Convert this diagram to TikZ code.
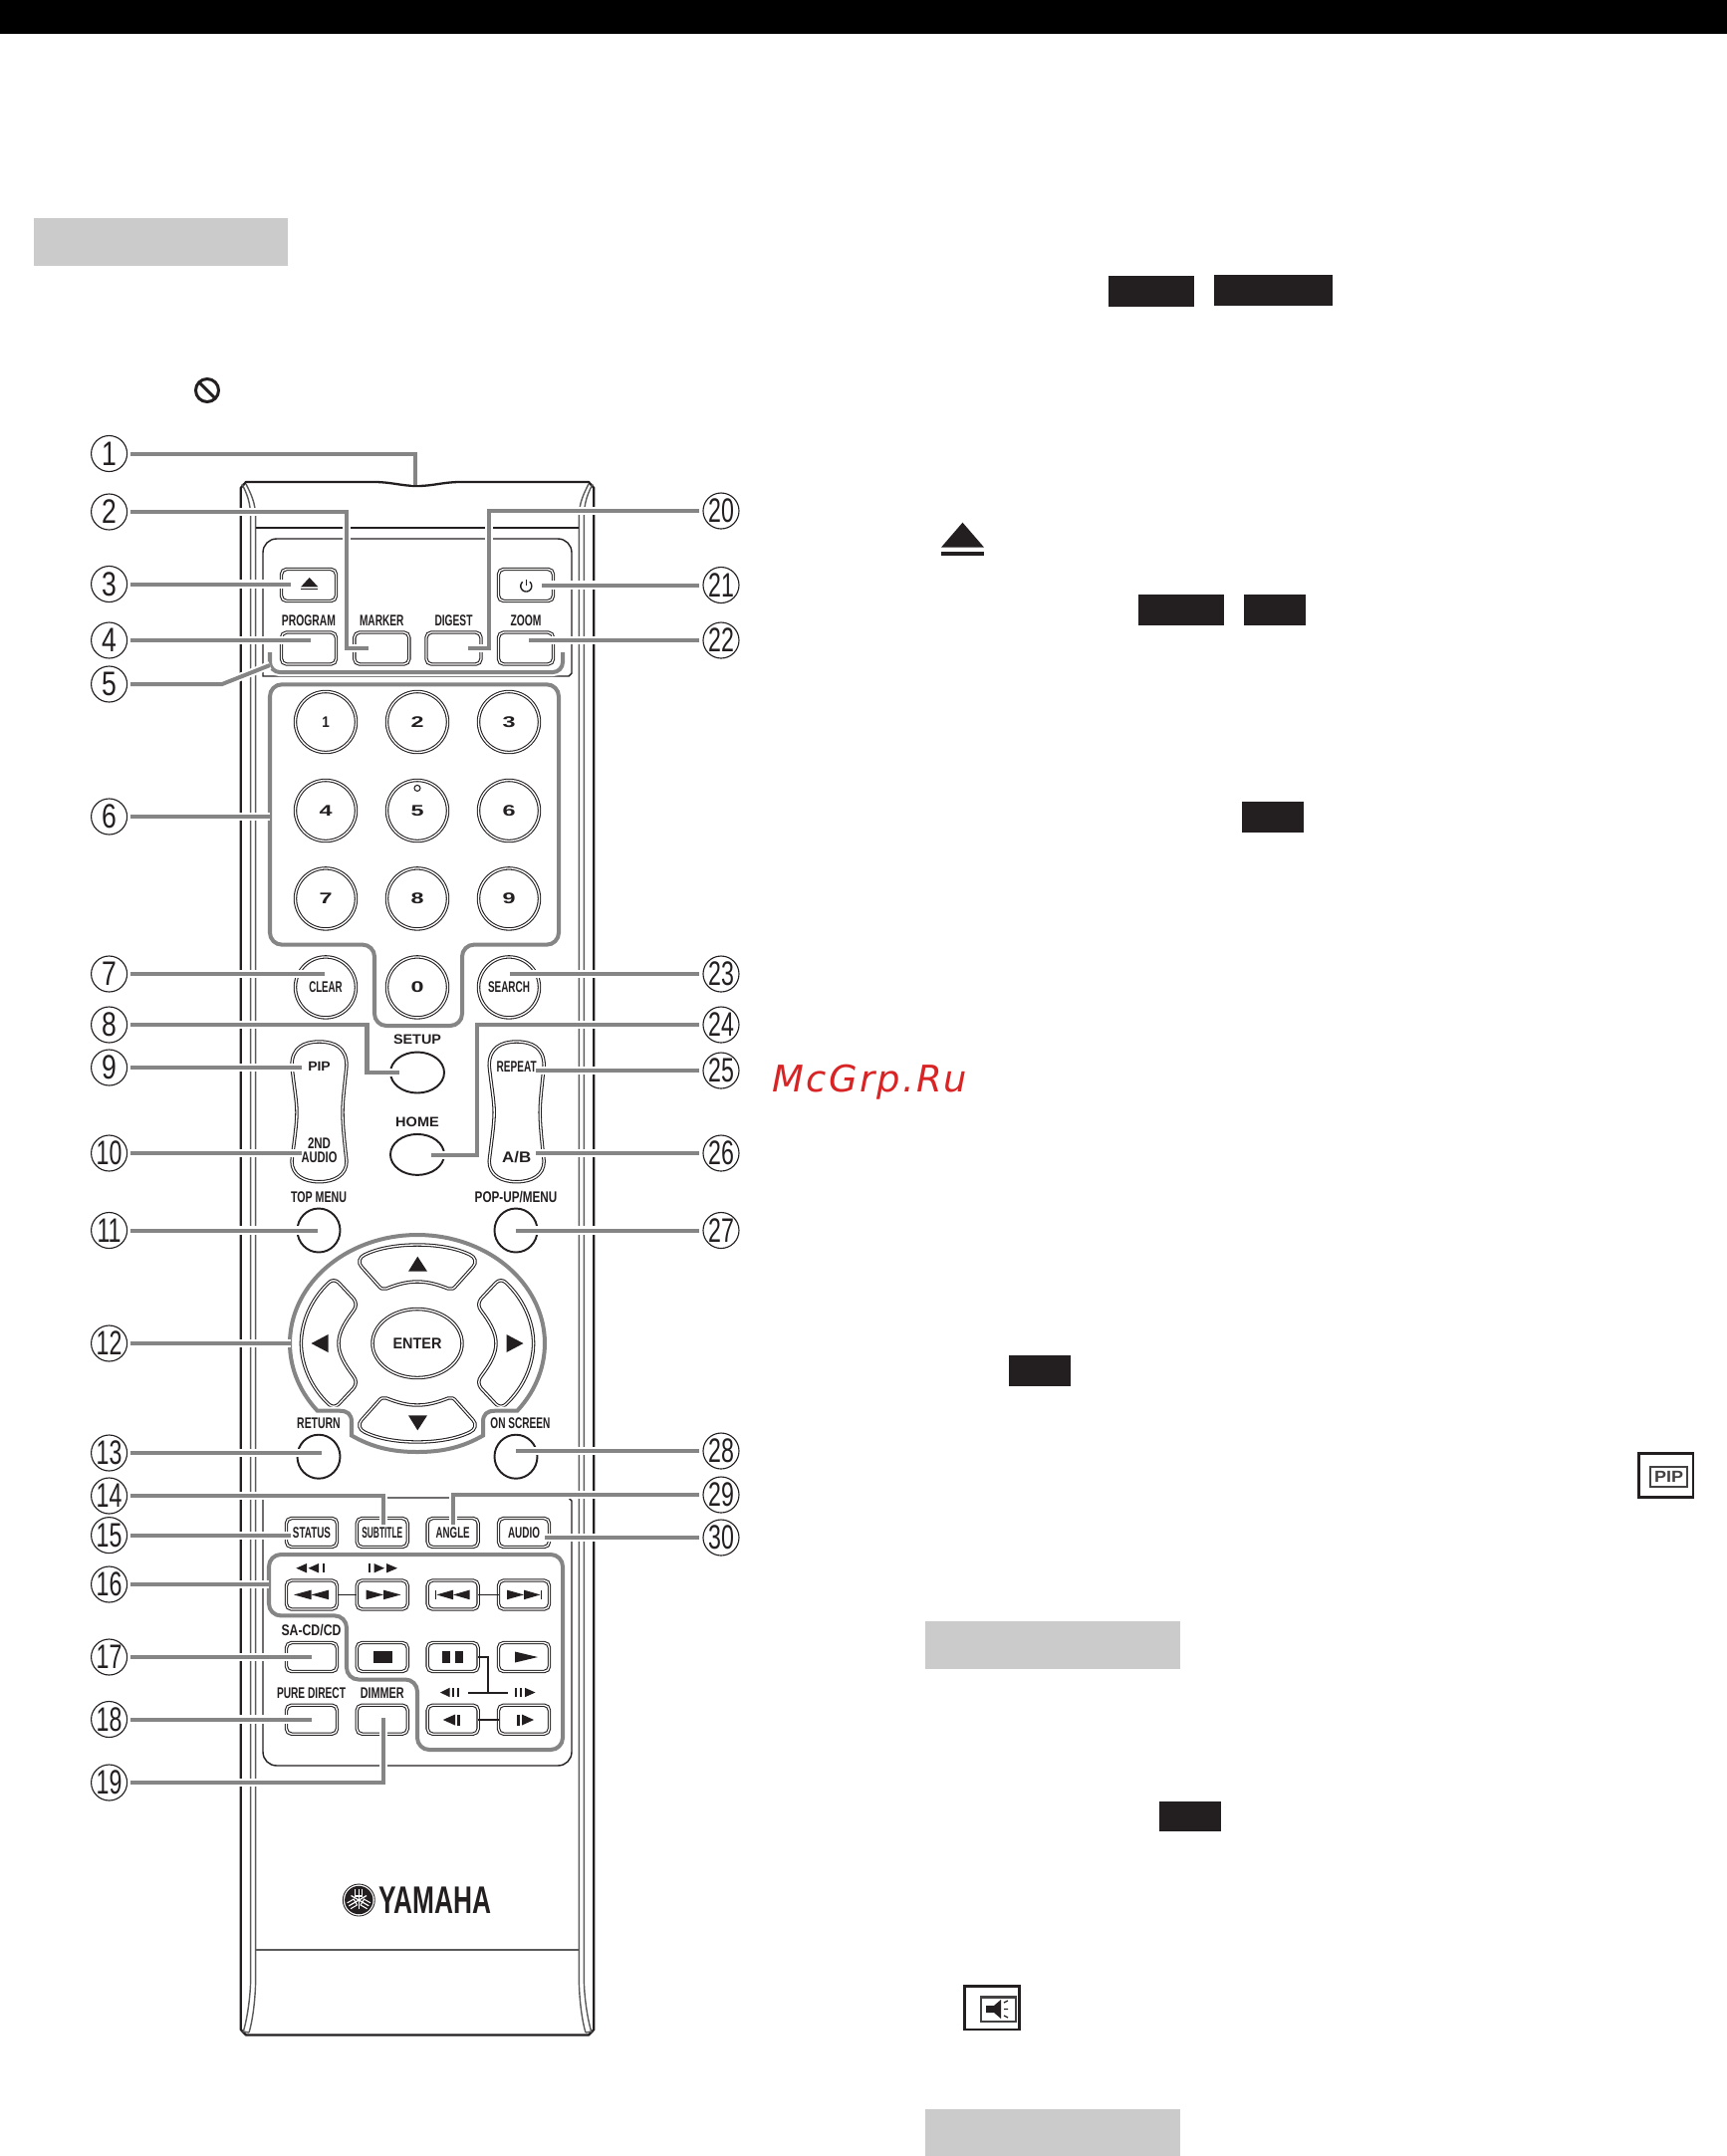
\documentclass[tikz,border=0pt]{standalone}
\usepackage{fontspec}
\usepackage{graphicx}
\usetikzlibrary{shapes.geometric}
\setmainfont{Liberation Sans}
\newfontfamily\wmf[LetterSpace=6]{DejaVu Sans}
\newlength\pxu \setlength\pxu{0.1mm}
\newcommand\fitw[2]{\resizebox{#1\pxu}{\height}{#2}}
\newcommand\tria[4]{\fill[icon] (#1,#3) -- (#2,#3-#4) -- (#2,#3+#4) -- cycle;}
\newcommand\barr[4]{\fill[icon] (#1,#3-#4) rectangle (#2,#3+#4);}
\definecolor{ink}{HTML}{231F20}
\definecolor{ldgray}{HTML}{858585}
\definecolor{boxgray}{HTML}{CBCBCB}
\definecolor{bodyln}{HTML}{5A5A5A}
\definecolor{wmred}{HTML}{D82424}
\tikzset{
  lead/.style={draw=ldgray,line width=1.14pt,miter limit=10,preaction={draw=white,line width=2.3pt}},
  callout/.style={circle,draw=ink,line width=.32pt,inner sep=0pt,minimum size=3.6mm,outer sep=1pt,font=\fontsize{9.7}{10}\selectfont,text=ink},
  keyd/.style={draw=ink,double=white,double distance=.38pt,line width=.3pt},
  rbtn/.style={keyd,rectangle,rounded corners=1.5pt,inner sep=0pt,outer sep=0pt,minimum width=5.5mm,minimum height=3.2mm},
  tbtn/.style={keyd,rectangle,rounded corners=1.5pt,inner sep=0pt,outer sep=0pt,minimum width=5.1mm,minimum height=2.9mm},
  nkey/.style={keyd,circle,inner sep=0pt,outer sep=0pt,minimum size=6.1mm},
  okey/.style={draw=ink,line width=.55pt,ellipse,inner sep=0pt,outer sep=0pt,minimum width=#1},
  capt/.style={inner sep=0pt,outer sep=0pt,text=ink,font=\fontsize{4.4}{5}\selectfont\bfseries},
  link/.style={draw=ink,line width=.55pt},
  icon/.style={fill=ink},
  panel/.style={draw=ink,line width=.4pt},
  bodyl/.style={draw=bodyln,line width=.4pt},
}
\begin{document}
\begin{tikzpicture}[x=0.1mm,y=-0.1mm]
\useasboundingbox (0,0) rectangle (1734,2165);
% page furniture
\fill[black] (0,0) rectangle (1734,34);
\fill[boxgray] (34,219) rectangle (289,267);
\fill[boxgray] (929,1627.6) rectangle (1185,1675.7);
\fill[boxgray] (929,2118) rectangle (1185,2165);
\foreach \a/\b/\c/\d in {1113/277/1199/308,1219/276/1338/307,1143/597/1229/628,1249/597/1311/628,1247/805/1309/836,1012.5/1361/1075/1392,1164/1809/1226/1839}
  \fill[ink] (\a,\b) rectangle (\c,\d);
\draw[ink,line width=.85pt] (208,392) circle[radius=1.15mm];
\draw[ink,line width=.85pt] (200,384) -- (216,400);
\fill[ink] (966.5,524.7) -- (988,549.6) -- (945,549.6) -- cycle;
\fill[ink] (945,554) rectangle (988,558);
% PIP icon
\draw[ink,line width=.75pt] (1645.5,1459.5) rectangle (1700,1503.5);
\draw[ink!85,line width=.6pt] (1657,1473) rectangle (1694,1493);
\node[capt,text=ink!85,font=\fontsize{4.6}{5}\selectfont\bfseries] (iconpip) at (1675.5,1483) {\fitw{29}{PIP}};
% speaker icon
\draw[ink,line width=.75pt] (968.5,1994.5) rectangle (1023.5,2038);
\draw[ink!85,line width=.6pt] (985,2005.5) rectangle (1020,2030);
\fill[ink] (990,2014) -- (998,2014) -- (1005,2008) -- (1005,2027) -- (998,2021) -- (990,2021) -- cycle;
\draw[ink,line width=.35pt] (1008,2011) -- (1012,2009) (1008,2017.5) -- (1012,2017.5) (1008,2024) -- (1012,2026);
% watermark
\node[inner sep=0pt,anchor=base west,text=wmred,font=\wmf\itshape\fontsize{10.5}{12}\selectfont] (wm) at (775,1096.7) {McGrp.Ru};
% remote body
\draw[ink,line width=.65pt,line join=round] (241.7,490) -- (241.7,2038) -- (247,2043.5) -- (591,2043.5) -- (596.3,2038) -- (596.3,490) -- (591,484) -- (462,484) .. controls (445,484) and (435,488) .. (419,488) .. controls (403,488) and (393,484) .. (376,484) -- (247,484) -- cycle;
\foreach \t in {{},{shift={(838,0)},xscale=-1}}{
  \begin{scope}[bodyl]
  \expandafter\tikzset\expandafter{\t}
  \draw[bodyl] (243,486) .. controls (248,496) and (251.7,505) .. (251.7,520) -- (251.7,1985) .. controls (251.7,2005) and (248,2028) .. (244.3,2040) -- (250,2041);
  \draw[bodyl] (247,486) .. controls (252,496) and (256.7,505) .. (256.7,520) -- (256.7,1985) .. controls (256.7,2005) and (254,2028) .. (250,2041);
  \end{scope}
}
\draw[ink,line width=.4pt] (256.7,530) -- (581.3,530);
\draw[bodyl,line width=.6pt] (256.7,1958) -- (581.3,1958);
\draw[panel] (264,679) -- (264,555) .. controls (264,547) and (270,541) .. (278,541) -- (560,541) .. controls (568,541) and (574,547) .. (574,555) -- (574,676) -- (571,679) -- cycle;
\draw[panel] (264,1504) -- (264,1759) .. controls (264,1767) and (270,1773) .. (278,1773) -- (560,1773) .. controls (568,1773) and (574,1767) .. (574,1759) -- (574,1507) -- (571,1504) -- cycle;
% top buttons
\node[rbtn] (beject) at (310,587.5) {};
\node[rbtn] (bpower) at (528,587.5) {};
\node[rbtn] (bprog) at (310,651) {};
\node[rbtn] (bmark) at (383.3,651) {};
\node[rbtn] (bdig) at (455.5,651) {};
\node[rbtn] (bzoom) at (528,651) {};
\node[capt] (lprog) at (310,623) {\fitw{54}{PROGRAM}};
\node[capt] (lmark) at (383.3,623) {\fitw{44.5}{MARKER}};
\node[capt] (ldig) at (455.5,623) {\fitw{38}{DIGEST}};
\node[capt] (lzoom) at (528,623) {\fitw{31}{ZOOM}};
\fill[ink] (310.7,580) -- (319.4,589.4) -- (302,589.4) -- cycle;
\fill[ink] (302,590.6) rectangle (319.4,592.4);
\draw[ink,line width=.4pt] plot[domain=40:320,samples=40] ({528.3+5.5*sin(\x)},{588.5-5.5*cos(\x)});
\draw[ink,line width=.4pt] (528.3,581.5) -- (528.3,588);
% number keys
\foreach \n/\t/\x/\y/\w in {k1/1/327/725/7.5,k2/2/419/725/13,k3/3/511/725/13,k4/4/327/814/13,k5/5/419/814/13,k6/6/511/814/13,k7/7/327/902.4/13,k8/8/419/902.4/13,k9/9/511/902.4/13,k0/0/419/991.4/13}
  \node[nkey,capt] (\n) at (\x,\y) {\fitw{\w}{\t}};
\draw[ink,line width=.3pt] (419,791.4) circle[radius=.3mm];
\node[nkey,capt] (bclear) at (327,991.4) {\fitw{33.5}{CLEAR}};
\node[nkey,capt] (bsearch) at (511,991.4) {\fitw{42}{SEARCH}};
% setup home
\node[capt,font=\fontsize{3.9}{5}\selectfont\bfseries] (lsetup) at (419,1043.7) {\fitw{48}{SETUP}};
\node[capt,font=\fontsize{3.9}{5}\selectfont\bfseries] (lhome) at (419,1126.7) {\fitw{43.6}{HOME}};
\node[okey=5.4mm,minimum height=4.1mm] (bsetup) at (419,1077) {};
\node[okey=5.4mm,minimum height=4.1mm] (bhome) at (419,1159.4) {};
% pills
\foreach \sx in {0,198.2}{
 \draw[keyd,xshift=\sx*0.1mm] (293,1070) .. controls (293,1052) and (305,1046) .. (320.5,1046) .. controls (336,1046) and (348,1052) .. (348,1070) .. controls (346,1090) and (344,1105) .. (344,1117) .. controls (344,1130) and (346,1148) .. (348,1166) .. controls (348,1180) and (336,1186.7) .. (320.5,1186.7) .. controls (305,1186.7) and (293,1180) .. (293,1166) .. controls (295,1148) and (298,1130) .. (298,1117) .. controls (298,1105) and (295,1090) .. (293,1070) -- cycle;
}
\node[capt,font=\fontsize{3.8}{5}\selectfont\bfseries] (lpip) at (320.5,1070.7) {\fitw{22.5}{PIP}};
\node[capt] (l2nd) at (320.5,1147.7) {\fitw{23}{2ND}};
\node[capt] (laudio) at (320.5,1161.7) {\fitw{36}{AUDIO}};
\node[capt] (lrepeat) at (518.7,1070.7) {\fitw{40}{REPEAT}};
\node[capt] (lab) at (518.7,1162) {\fitw{29}{A/B}};
% menu buttons
\node[capt] (ltop) at (320,1202) {\fitw{56}{TOP MENU}};
\node[capt] (lpop) at (518,1202) {\fitw{82.6}{POP-UP/MENU}};
\node[capt] (lret) at (320,1429) {\fitw{43.6}{RETURN}};
\node[capt] (lons) at (522.4,1429) {\fitw{60}{ON SCREEN}};
\node[okey=4.3mm,minimum height=4.4mm] (btop) at (320,1235.5) {};
\node[okey=4.3mm,minimum height=4.4mm] (bpop) at (518,1235.5) {};
\node[okey=4.3mm,minimum height=4.4mm] (bret) at (320,1462.7) {};
\node[okey=4.3mm,minimum height=4.4mm] (bons) at (518,1462.7) {};
% d-pad
\foreach \tr in {{},{shift={(0,2698)},yscale=-1}}{
 \begin{scope}
 \expandafter\tikzset\expandafter{\tr}
 \draw[keyd] (366,1260) .. controls (380,1253) and (400,1250) .. (419,1250) .. controls (438,1250) and (458,1253) .. (472,1260) .. controls (477,1262) and (479,1268) .. (475,1272) -- (458,1291) .. controls (456,1294) and (453,1295) .. (450,1294) .. controls (440,1290) and (430,1287) .. (419,1287) .. controls (408,1287) and (398,1290) .. (388,1294) .. controls (385,1295) and (382,1294) .. (380,1291) -- (363,1272) .. controls (359,1268) and (361,1262) .. (366,1260) -- cycle;
 \fill[icon] (419.3,1261.7) -- (429,1276.7) -- (410,1276.7) -- cycle;
 \end{scope}
}
\foreach \tr in {{},{shift={(838,0)},xscale=-1}}{
 \begin{scope}
 \expandafter\tikzset\expandafter{\tr}
 \draw[keyd] (330,1288) .. controls (312,1305) and (302.4,1328) .. (302.4,1349) .. controls (302.4,1370) and (312,1393) .. (330,1410) .. controls (333,1413) and (337,1413) .. (340,1410) -- (355,1394) .. controls (358,1390) and (358,1386) .. (355,1382) .. controls (346,1370) and (340,1360) .. (340,1349) .. controls (340,1338) and (346,1328) .. (355,1316) .. controls (358,1312) and (358,1308) .. (355,1304) -- (340,1288) .. controls (337,1285) and (333,1285) .. (330,1288) -- cycle;
 \fill[icon] (312.5,1349) -- (329.5,1340) -- (329.5,1358) -- cycle;
 \end{scope}
}
\node[keyd,ellipse,capt,minimum width=9mm,minimum height=6.9mm] (benter) at (419,1349) {\fitw{49}{ENTER}};
% transport buttons
\node[tbtn,capt] (bstatus) at (313,1539) {\fitw{38}{STATUS}};
\node[tbtn,capt] (bsub) at (383.8,1539) {\fitw{41}{SUBTITLE}};
\node[tbtn,capt] (bangle) at (454.7,1539) {\fitw{34}{ANGLE}};
\node[tbtn,capt] (baudio) at (526,1539) {\fitw{32}{AUDIO}};
\node[tbtn] (brew) at (313,1601.5) {};
\node[tbtn] (bfwd) at (383.8,1601.5) {};
\node[tbtn] (bprev) at (454.7,1601.5) {};
\node[tbtn] (bnext) at (526,1601.5) {};
\node[tbtn] (bsacd) at (313,1664) {};
\node[tbtn] (bstop) at (383.8,1664) {};
\node[tbtn] (bpause) at (454.7,1664) {};
\node[tbtn] (bplay) at (526,1664) {};
\node[tbtn] (bpure) at (313,1726.7) {};
\node[tbtn] (bdim) at (383.8,1726.7) {};
\node[tbtn] (bsl) at (454.7,1726.7) {};
\node[tbtn] (bsr) at (526,1726.7) {};
\node[capt] (lsacd) at (312.5,1637.5) {\fitw{60}{SA-CD/CD}};
\node[capt] (lpure) at (312.5,1700) {\fitw{69}{PURE DIRECT}};
\node[capt] (ldim) at (383.8,1700) {\fitw{44}{DIMMER}};
\draw[link] (brew.east) -- (bfwd.west);
\draw[link] (bprev.east) -- (bnext.west);
\draw[link] (bsl.east) -- (bsr.west);
\coordinate (sj) at (490,1700);
\coordinate (slL) at (470,1700);
\coordinate (slR) at (510,1700);
\draw[link] (slL) -- (slR);
\draw[link] (bpause.east) -| (sj);
% transport icons
\tria{297.4}{308}{1574.7}{4.7}\tria{309.5}{320}{1574.7}{4.7}\barr{324}{326}{1574.7}{4.7}
\barr{370}{372}{1574.7}{4.7}\tria{386}{375.5}{1574.7}{4.7}\tria{399}{388}{1574.7}{4.7}
\tria{295}{312.5}{1601.4}{4.8}\tria{312.5}{330}{1601.4}{4.8}
\tria{385}{367.6}{1601.4}{4.8}\tria{402.5}{385}{1601.4}{4.8}
\barr{437.4}{438.4}{1601.4}{4.8}\tria{438.4}{455}{1601.4}{4.8}\tria{455}{471.5}{1601.4}{4.8}
\tria{526}{509}{1601.4}{4.8}\tria{542.5}{526}{1601.4}{4.8}\barr{542.5}{543.5}{1601.4}{4.8}
\barr{374.5}{393.8}{1663.8}{5.7}
\barr{443.8}{451.6}{1663.8}{5.7}\barr{457}{465}{1663.8}{5.7}
\tria{540}{517}{1664}{5.5}
\tria{442}{451.5}{1699.5}{4.7}\barr{454}{456}{1699.5}{4.7}\barr{459}{461}{1699.5}{4.7}
\barr{517}{519}{1699.5}{4.7}\barr{522}{524}{1699.5}{4.7}\tria{537.5}{527}{1699.5}{4.7}
\tria{444.8}{457}{1727}{5.5}\barr{459}{461.8}{1727}{5.5}
\barr{519}{521.8}{1727}{5.5}\tria{536}{524}{1727}{5.5}
% yamaha
\draw[ink,line width=.25pt] (360.3,1908) circle[radius=1.6mm];
\fill[ink] (360.3,1908) circle[radius=1.42mm];
\foreach \a in {90,210,330}{
 \begin{scope}[shift={(360.3,1908)},rotate=\a]
  \draw[white,line width=.35pt] (-9,0) -- (11.5,0);
  \draw[white,line width=.3pt] (11.5,3.4) -- (4,3.4) -- (4,-3.4) -- (11.5,-3.4);
 \end{scope}
}
\node[inner sep=0pt,text=ink,font=\fontsize{11}{12}\selectfont\bfseries] (logo) at (436.5,1908.4) {\fitw{113}{YAMAHA}};
% grey outlines
\draw[lead,rounded corners=1mm] (271,655) -- (271,675) -- (565,675) -- (565,655);
\draw[lead,rounded corners=1.2mm] (271,687.3) -- (561,687.3) -- (561,948.6) -- (464,948.6) -- (464,1030) -- (376,1030) -- (376,948.6) -- (271,948.6) -- cycle;
\draw[lead] plot[domain=141.6:398.4,samples=100] ({419+128*cos(\x)},{1349+109*sin(\x)}) -- (497,1416.7) .. controls (489,1416.7) and (485,1420) .. (485,1428) -- (485,1441.5) .. controls (465,1453) and (445,1458) .. (419,1458) .. controls (393,1458) and (373,1453) .. (353,1441.5) -- (353,1428) .. controls (353,1420) and (349,1416.7) .. (341,1416.7) -- cycle;
\draw[lead,rounded corners=1.2mm] (270,1561) -- (565,1561) -- (565,1757) -- (419,1757) -- (419,1686.5) -- (348,1686.5) -- (348,1622.4) -- (270,1622.4) -- cycle;
% numbered callouts
\foreach \i/\y in {1/455.5,2/514,3/586.5,4/643,5/687,6/820,7/978,8/1029,9/1072}
  \node[callout] (n\i) at (109.6,\y) {\scalebox{.78}[1]{\i}};
\foreach \i/\y in {10/1158,11/1235.5,12/1349,13/1459,14/1502,15/1541.6,16/1591,17/1664,18/1726.5,19/1790}
  \node[callout] (n\i) at (109.6,\y) {\scalebox{.68}[1]{\i}};
\foreach \i/\y in {20/513,21/587.5,22/643,23/978,24/1029,25/1075,26/1158,27/1235.5,28/1457,29/1501,30/1544}
  \node[callout] (n\i) at (724,\y) {\scalebox{.68}[1]{\i}};
% leaders (straight, left column)
\foreach \i/\x in {3/292,4/311.6,6/271,7/326,9/303,10/303,11/319.4,12/292,13/322.6,15/292,16/270,17/312.5,18/312.5}{
  \coordinate (e\i) at (\x,0 |- n\i.east);
  \draw[lead] (n\i.east) -- (e\i);
}
% leaders (straight, right column)
\foreach \i/\x in {21/544.4,22/530.6,23/512.2,25/537.5,26/537.5,27/518,28/518,30/546.7}{
  \coordinate (e\i) at (\x,0 |- n\i.west);
  \draw[lead] (n\i.west) -- (e\i);
}
% leaders (bent)
\coordinate (k1) at (417,487);
\draw[lead] (n1.east) -| (k1);
\coordinate (k2) at (348,651.4); \coordinate (e2) at (370,651.4);
\draw[lead] (n2.east) -| (k2) -- (e2);
\coordinate (k5) at (223,687); \coordinate (e5) at (271,668);
\draw[lead] (n5.east) -- (k5) -- (e5);
\coordinate (k8) at (368.5,1077); \coordinate (e8) at (400.7,1077);
\draw[lead] (n8.east) -| (k8) -- (e8);
\coordinate (e14) at (384.6,1530.6);
\draw[lead] (n14.east) -| (e14);
\coordinate (e19) at (385,1724.5);
\draw[lead] (n19.east) -| (e19);
\coordinate (k20) at (490.7,651.4); \coordinate (e20) at (470,651.4);
\draw[lead] (n20.west) -| (k20) -- (e20);
\coordinate (k24) at (479,1160); \coordinate (e24) at (433,1160);
\draw[lead] (n24.west) -| (k24) -- (e24);
\coordinate (e29) at (455,1530.6);
\draw[lead] (n29.west) -| (e29);
\end{tikzpicture}
\end{document}
